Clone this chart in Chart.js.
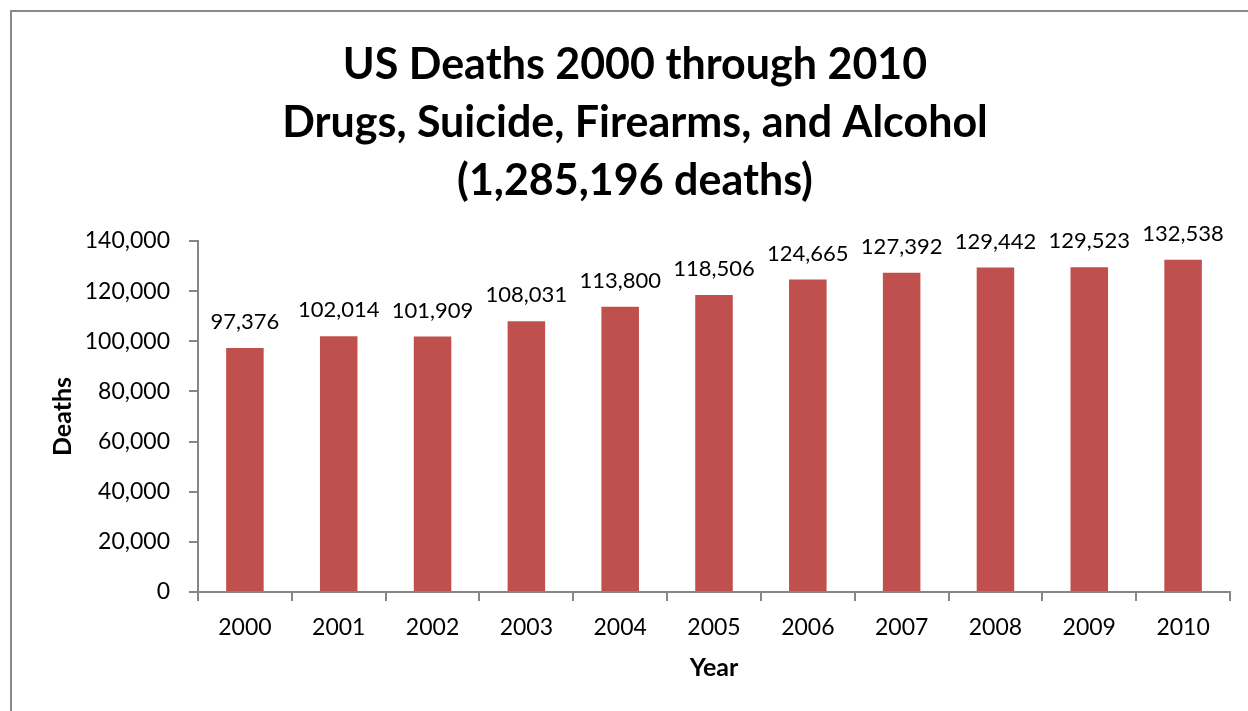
<!DOCTYPE html>
<html>
<head>
<meta charset="utf-8">
<script src="https://cdn.jsdelivr.net/npm/chart.js@4/dist/chart.umd.min.js"></script>
<style>
  html, body { margin: 0; padding: 0; background: #fff; }
  #wrap { width: 1248px; height: 711px; position: relative; }
</style>
</head>
<body>
<div id="wrap"><canvas id="c" width="1248" height="711"></canvas></div>
<script>
// Yearly totals: drugs, suicide, firearms and alcohol deaths
const years = ['2000', '2001', '2002', '2003', '2004', '2005', '2006', '2007', '2008', '2009', '2010'];
const deaths = [97376, 102014, 101909, 108031, 113800, 118506, 124665, 127392, 129442, 129523, 132538];
const titleLines = ['US Deaths 2000 through 2010', 'Drugs, Suicide, Firearms, and Alcohol', '(1,285,196 deaths)'];
const yTicks = [0, 20000, 40000, 60000, 80000, 100000, 120000, 140000];

const FONT = "Lato, 'Open Sans', sans-serif";
const AXIS_GRAY = '#868686';
const fmt = v => v.toLocaleString('en-US');

// Outer frame around the whole chart
const framePlugin = {
  id: 'frame',
  beforeDraw(chart) {
    const ctx = chart.ctx;
    ctx.save();
    ctx.fillStyle = '#fff';
    ctx.fillRect(0, 0, chart.width, chart.height);
    ctx.strokeStyle = '#8a8a8a';
    ctx.lineWidth = 2;
    ctx.strokeRect(11, 11, chart.width + 20, chart.height + 20);
    ctx.restore();
  }
};

// Value labels above each bar
const valueLabels = {
  id: 'valueLabels',
  afterDatasetsDraw(chart) {
    const ctx = chart.ctx;
    const meta = chart.getDatasetMeta(0);
    const data = chart.data.datasets[0].data;
    ctx.save();
    ctx.font = `22px ${FONT}`;
    ctx.fillStyle = '#000';
    ctx.textAlign = 'center';
    ctx.textBaseline = 'middle';
    meta.data.forEach((bar, i) => {
      ctx.fillText(fmt(data[i]), bar.x, bar.y - 26);
    });
    ctx.restore();
  }
};

new Chart(document.getElementById('c'), {
  type: 'bar',
  data: {
    labels: years,
    datasets: [{
      data: deaths,
      backgroundColor: '#C0504D',
      borderWidth: 0,
      categoryPercentage: 1,
      barPercentage: 0.4
    }]
  },
  options: {
    responsive: false,
    animation: false,
    devicePixelRatio: 1,
    layout: { padding: { left: 40, right: 18, top: 26, bottom: 19 } },
    plugins: {
      legend: { display: false },
      tooltip: { enabled: false },
      title: {
        display: true,
        text: titleLines,
        color: '#000',
        font: { family: FONT, size: 43, weight: 'bold', lineHeight: 1.349 },
        padding: { top: 10, bottom: 31 }
      }
    },
    scales: {
      x: {
        afterFit(s) { s.height = 100; },
        grid: { display: true, drawOnChartArea: false, offset: true, tickLength: 9, color: AXIS_GRAY, lineWidth: 2 },
        border: { display: true, color: AXIS_GRAY, width: 2 },
        ticks: { color: '#000', font: { family: FONT, size: 23 }, padding: 13, maxRotation: 0 },
        title: { display: true, text: 'Year', color: '#000', font: { family: FONT, size: 25, weight: 'bold' }, padding: { top: 0, bottom: 9 } }
      },
      y: {
        min: 0,
        max: 140000,
        afterFit(s) { s.width = 158; },
        afterBuildTicks(s) { s.ticks = yTicks.map(v => ({ value: v })); },
        grid: { display: true, drawOnChartArea: false, tickLength: 9, color: AXIS_GRAY, lineWidth: 2 },
        border: { display: true, color: AXIS_GRAY, width: 2 },
        ticks: { color: '#000', font: { family: FONT, size: 23 }, padding: 19, callback: v => fmt(v) },
        title: { display: true, text: 'Deaths', color: '#000', font: { family: FONT, size: 25, weight: 'bold' }, padding: { top: 8, bottom: 0 } }
      }
    }
  },
  plugins: [framePlugin, valueLabels]
});
</script>
</body>
</html>
